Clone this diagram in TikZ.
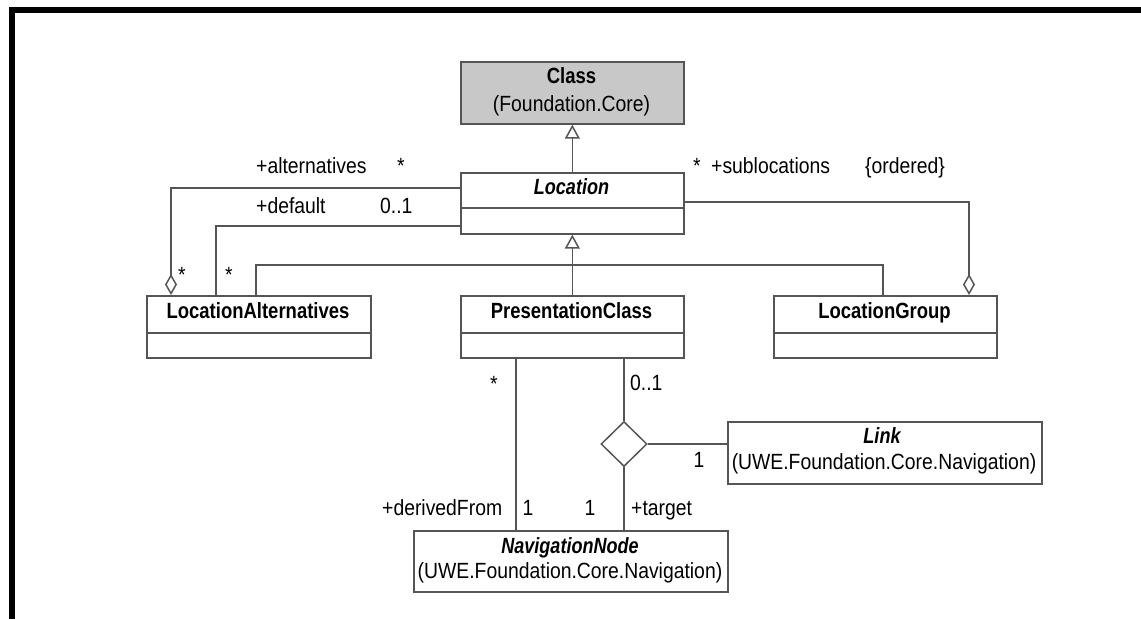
\documentclass[tikz,border=0pt]{standalone}
\usepackage{fontspec}
\setmainfont{Liberation Sans}[FakeStretch=0.88]
\newfontfamily\bff{Liberation Sans}[FakeStretch=0.84]
\newfontfamily\bif{Liberation Sans}[FakeStretch=0.82]
\usetikzlibrary{arrows.meta,shapes.geometric,calc}
\definecolor{lc}{RGB}{85,85,85}
\definecolor{classgray}{RGB}{200,200,200}
\begin{document}
\begin{tikzpicture}[x=1pt,y=-1pt,
  line/.style={draw=lc, line width=1.5pt},
  umlbox/.style={draw=lc, line width=1.7pt, rectangle, inner sep=0pt, anchor=north west},
  txt/.style={inner sep=0pt, font=\fontsize{22}{26}\selectfont, text=black},
  gen/.style={-{Triangle[open, length=14pt, width=15pt, fill=white]}},
  agg/.style={{Diamond[open, length=21pt, width=12pt, fill=white]}-}]
\useasboundingbox[fill=white] (0,0) rectangle (1141,619);
\draw[line width=6pt, black, line join=miter] (11.5,619) -- (11.5,9.5) -- (1141,9.5);

% boxes
\node[umlbox, minimum width=223pt, minimum height=62pt, fill=classgray] (C) at (460,61) {};
\node[umlbox, minimum width=223pt, minimum height=61pt] (L) at (460,172) {};
\node[umlbox, minimum width=224pt, minimum height=62pt] (LA) at (146,295) {};
\node[umlbox, minimum width=223pt, minimum height=62pt] (PC) at (460,295) {};
\node[umlbox, minimum width=223pt, minimum height=62pt] (LG) at (773,295) {};
\node[umlbox, minimum width=314pt, minimum height=62pt] (Lk) at (727,421) {};
\node[umlbox, minimum width=314pt, minimum height=61pt] (NN) at (413,530) {};

% dividers
\draw[line] ($(L.north west)+(0,36)$) -- ($(L.north east)+(0,36)$);
\draw[line] ($(LA.north west)+(0,38)$) -- ($(LA.north east)+(0,38)$);
\draw[line] ($(PC.north west)+(0,38)$) -- ($(PC.north east)+(0,38)$);
\draw[line] ($(LG.north west)+(0,38)$) -- ($(LG.north east)+(0,38)$);

% box texts
\node[txt, anchor=base] (tC1) at (571.5,83) {\bff\bfseries Class};
\node[txt, anchor=base] (tC2) at (571.5,111) {(Foundation.Core)};
\node[txt, anchor=base] (tL) at (571.5,194) {\bif\bfseries\itshape Location};
\node[txt, anchor=base] (tLA) at (258,318) {\bff\bfseries LocationAlternatives};
\node[txt, anchor=base] (tPC) at (571.5,318) {\bff\bfseries PresentationClass};
\node[txt, anchor=base] (tLG) at (884.5,318) {\bff\bfseries LocationGroup};
\node[txt, anchor=base] (tLk1) at (882,443) {\bif\bfseries\itshape Link};
\node[txt, anchor=base] (tLk2) at (884,469) {(UWE.Foundation.Core.Navigation)};
\node[txt, anchor=base] (tNN1) at (570,553) {\bif\bfseries\itshape NavigationNode};
\node[txt, anchor=base] (tNN2) at (570,578) {(UWE.Foundation.Core.Navigation)};

% generalizations
\draw[line, gen] (L.north) -- (C.south);
\draw[line, gen] (PC.north) -- (L.south);
\coordinate (gA) at (256,265);
\coordinate (gB) at (883,265);
\draw[line] (LA.north -| gA) -- (gA) -- (gB) -- (LG.north -| gB);

% associations
\coordinate (aA) at (171,188);
\draw[line, agg] (LA.north -| aA) -- (aA) -- (L.west |- aA);
\coordinate (dA) at (216,226);
\draw[line] (LA.north -| dA) -- (dA) -- (L.west |- dA);
\coordinate (sA) at (969,202);
\draw[line, agg] (LG.north -| sA) -- (sA) -- (L.east |- sA);
\coordinate (dF) at (516,400);
\draw[line] (PC.south -| dF) -- (NN.north -| dF);
\node[diamond, draw=lc, line width=1.5pt, minimum width=46pt, minimum height=45pt, inner sep=0pt] (D) at (624,444) {};
\draw[line] (PC.south -| D) -- (D.north);
\draw[line] (D.south) -- (NN.north -| D);
\draw[line] (D.east) -- (Lk.west |- D);

% labels
\node[txt, anchor=base west] (m1) at (256,173) {+alternatives};
\node[txt, anchor=base] (m2) at (401,173) {*};
\node[txt, anchor=base west] (m3) at (256,213) {+default};
\node[txt, anchor=base west] (m4) at (380,213) {0..1};
\node[txt, anchor=base] (m5) at (697,173) {*};
\node[txt, anchor=base west] (m6) at (711,173) {+sublocations};
\node[txt, anchor=base west] (m7) at (865,173) {\{ordered\}};
\node[txt, anchor=base] (m8) at (182,282) {*};
\node[txt, anchor=base] (m9) at (229,282) {*};
\node[txt, anchor=base] (m10) at (494,391) {*};
\node[txt, anchor=base west] (m11) at (630,390) {0..1};
\node[txt, anchor=base] (m12) at (699,467) {1};
\node[txt, anchor=base west] (m13) at (382,515) {+derivedFrom};
\node[txt, anchor=base] (m14) at (528,515) {1};
\node[txt, anchor=base] (m15) at (590,515) {1};
\node[txt, anchor=base west] (m16) at (631,515) {+target};
\end{tikzpicture}
\end{document}
